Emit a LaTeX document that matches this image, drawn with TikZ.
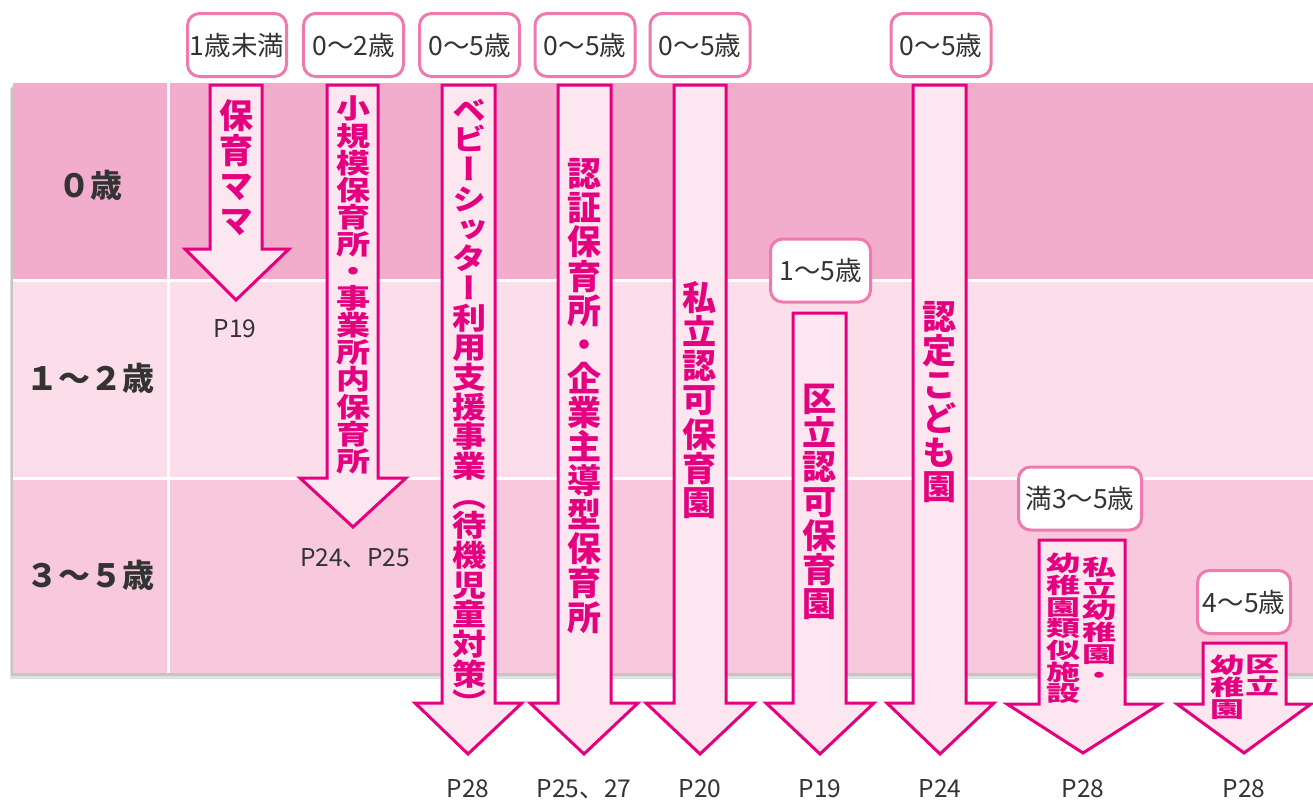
\documentclass[tikz,border=0pt]{standalone}
\usepackage{fontspec}
\usepackage{graphicx}
\newfontfamily\jp{Noto Sans CJK JP}
\newfontfamily\jpv[RawFeature=+vert]{Noto Sans CJK JP}
\definecolor{mag}{HTML}{E4007F}
\definecolor{boxline}{HTML}{EF7AB0}
\definecolor{arrfill}{HTML}{FCE6EF}
\definecolor{rowa}{HTML}{F2ADCD}
\definecolor{rowb}{HTML}{FBDEE9}
\definecolor{rowc}{HTML}{F8C9DC}
\definecolor{ink}{HTML}{333333}
% vertical column of characters: y-scale, pitch, rows
\newcommand{\tate}[3]{\scalebox{1}[#1]{\vbox{\baselineskip=#2pt\lineskiplimit=-100pt\halign{\hfil##\hfil\cr#3\crcr}}}}
\begin{document}
\begin{tikzpicture}[x=1pt, y=-1pt,
  lab/.style={draw=boxline, line width=3, fill=white, rounded corners=12, minimum height=63, inner sep=0, font=\jp\fontsize{26.5}{26.5}\selectfont, text=ink},
  page/.style={font=\jp\fontsize{24.5}{24.5}\selectfont, text=ink},
  age/.style={font=\jp\bfseries\fontsize{32}{32}\selectfont, text=ink},
  tatebox/.style={inner sep=0, text=mag, font=\jpv\bfseries\fontsize{34}{34}\selectfont},
  blk/.style={draw=mag, line width=3, fill=arrfill, line join=miter}]
\useasboundingbox (0,0) rectangle (1313,803);
% table
\fill[black, opacity=0.12] (10,88) rectangle (1313,679);
\fill[black, opacity=0.12] (11,86) rectangle (1313,676);
\fill[rowa] (13,83) rectangle (1313,280);
\fill[rowb] (13,280) rectangle (1313,478);
\fill[rowc] (13,478) rectangle (1313,673);
\draw[white, line width=3] (13,280) -- (1313,280);
\draw[white, line width=3] (13,478) -- (1313,478);
\draw[white, line width=3] (168,83) -- (168,673);
\node[age] (a0) at (90,185) {０歳};
\node[age] (a1) at (90,378) {１～２歳};
\node[age] (a2) at (90,575) {３～５歳};
% arrows
\draw[blk] (210,85) -- (210,249) -- (185,249) -- (236,300) -- (289,249) -- (262,249) -- (262,85) -- cycle;
\draw[blk] (327,85) -- (327,478) -- (300,478) -- (353,527) -- (406,478) -- (378,478) -- (378,85) -- cycle;
\draw[blk] (442,85) -- (442,703) -- (415,703) -- (468,754) -- (522,703) -- (495,703) -- (495,85) -- cycle;
\draw[blk] (558,85) -- (558,703) -- (530,703) -- (584,754) -- (638,703) -- (611,703) -- (611,85) -- cycle;
\draw[blk] (674,85) -- (674,703) -- (646,703) -- (700,754) -- (754,703) -- (726,703) -- (726,85) -- cycle;
\draw[blk] (793,313) -- (793,703) -- (766,703) -- (820,754) -- (874,703) -- (846,703) -- (846,313) -- cycle;
\draw[blk] (913,85) -- (913,703) -- (887,703) -- (940,754) -- (994,703) -- (966,703) -- (966,85) -- cycle;
\draw[blk] (1039,540) -- (1039,704) -- (1007,704) -- (1083,753) -- (1160,704) -- (1125,704) -- (1125,540) -- cycle;
\draw[blk] (1203,643) -- (1203,704) -- (1177,704) -- (1244,753) -- (1311,704) -- (1286,704) -- (1286,643) -- cycle;
% arrow texts
\node[tatebox] (t1) at (236,168) {\tate{1}{35}{保\cr 育\cr マ\cr マ}};
\node[tatebox] (t2) at (353,285) {\tate{0.797}{34}{小\cr 規\cr 模\cr 保\cr 育\cr 所\cr ・\cr 事\cr 業\cr 所\cr 内\cr 保\cr 育\cr 所}};
\node[tatebox] (t3) at (469,407) {\tate{0.873}{34}{ベ\cr ビ\cr ー\cr シ\cr ッ\cr タ\cr ー\cr 利\cr 用\cr 支\cr 援\cr 事\cr 業\cr （\cr 待\cr 機\cr 児\cr 童\cr 対\cr 策\cr ）}};
\node[tatebox] (t4) at (584,396) {\tate{1}{34.1}{認\cr 証\cr 保\cr 育\cr 所\cr ・\cr 企\cr 業\cr 主\cr 導\cr 型\cr 保\cr 育\cr 所}};
\node[tatebox] (t5) at (699,400) {\tate{1}{34.2}{私\cr 立\cr 認\cr 可\cr 保\cr 育\cr 園}};
\node[tatebox] (t6) at (819,502) {\tate{1}{34.2}{区\cr 立\cr 認\cr 可\cr 保\cr 育\cr 園}};
\node[tatebox] (t7) at (939,402) {\tate{1}{34}{認\cr 定\cr こ\cr ど\cr も\cr 園}};
\node[tatebox, anchor=north] (t8a) at (1099,557) {\tate{0.637}{34}{私\cr 立\cr 幼\cr 稚\cr 園\cr ・}};
\node[tatebox, anchor=north] (t8b) at (1063,553) {\tate{0.637}{34}{幼\cr 稚\cr 園\cr 類\cr 似\cr 施\cr 設}};
\node[tatebox, anchor=north] (t9a) at (1262,655) {\tate{0.64}{34}{区\cr 立}};
\node[tatebox, anchor=north] (t9b) at (1227,655) {\tate{0.64}{34}{幼\cr 稚\cr 園}};
% age boxes
\node[lab, minimum width=99] (b1) at (237,45) {1歳未満};
\node[lab, minimum width=100] (b2) at (353.5,45) {0～2歳};
\node[lab, minimum width=100] (b3) at (469.5,45) {0～5歳};
\node[lab, minimum width=100] (b4) at (585,45) {0～5歳};
\node[lab, minimum width=100] (b5) at (700,45) {0～5歳};
\node[lab, minimum width=100] (b6) at (820.5,270.5) {1～5歳};
\node[lab, minimum width=100] (b7) at (941,45) {0～5歳};
\node[lab, minimum width=123] (b8) at (1080,498.5) {満3～5歳};
\node[lab, minimum width=93] (b9) at (1244,602) {4～5歳};
% page numbers
\node[page] (p1) at (235,329) {P19};
\node[page] (p2) at (355,558) {P24、P25};
\node[page] (p3) at (468,789) {P28};
\node[page] (p4) at (584,789) {P25、27};
\node[page] (p5) at (700,789) {P20};
\node[page] (p6) at (820,789) {P19};
\node[page] (p7) at (940,789) {P24};
\node[page] (p8) at (1083,789) {P28};
\node[page] (p9) at (1244,789) {P28};
\end{tikzpicture}
\end{document}
